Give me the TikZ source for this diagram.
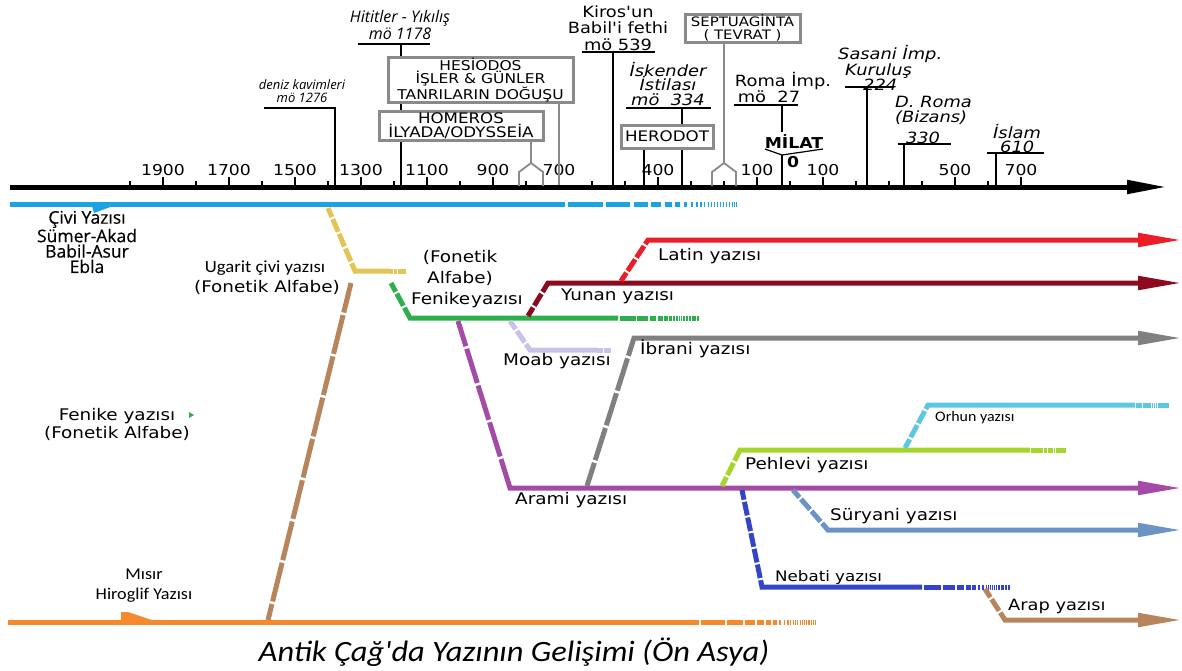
\documentclass[tikz,border=0pt]{standalone}
\usepackage{fontspec}
\setmainfont{DejaVu Sans}[FakeStretch=1.15]
\newfontfamily\djvu{DejaVu Sans}[FakeStretch=1.15]
\newfontfamily\calfont{Carlito}[FakeStretch=1.1]
\newfontfamily\osfont{Open Sans}
\newfontfamily\osmed{Open Sans}[FakeBold=0.4]
\usetikzlibrary{arrows.meta,calc}
\definecolor{cblue}{HTML}{1BA3E3}
\definecolor{cyellow}{HTML}{E3C555}
\definecolor{cbrown}{HTML}{B8845C}
\definecolor{cgreen}{HTML}{2DB04B}
\definecolor{cpurple}{HTML}{A34BA7}
\definecolor{clav}{HTML}{C8C1E8}
\definecolor{cdred}{HTML}{8C0A1E}
\definecolor{cred}{HTML}{EB1E28}
\definecolor{cgrey}{HTML}{808080}
\definecolor{clime}{HTML}{A6D62C}
\definecolor{ccyan}{HTML}{5CC7E2}
\definecolor{csteel}{HTML}{6B93C6}
\definecolor{cnavy}{HTML}{3344C8}
\definecolor{corange}{HTML}{F6892B}
\definecolor{boxgrey}{HTML}{8A8A8A}
\newcommand\fadetail[3]{%
  \foreach \ta/\tb in {0.02/0.22,0.24/0.38,0.40/0.48,0.50/0.56,0.58/0.62,0.64/0.67,0.69/0.71,0.73/0.745,0.76/0.772,0.785/0.795,0.808/0.816,0.829/0.836,0.849/0.855,0.868/0.873,0.886/0.890,0.903/0.907,0.920/0.923,0.936/0.939,0.952/0.955,0.968/0.971,0.984/0.987,0.997/1.0}
    {\draw[#1,line width=5pt] ($(#2)!\ta!(#3)$) -- ($(#2)!\tb!(#3)$);}}
\begin{document}
\begin{tikzpicture}[x=1pt,y=-1pt,line join=miter,
  br/.style={line width=5pt},
  tipd/.style={-{Triangle[length=44pt,width=13pt]}},
  gapl/.style={draw=white,line width=8pt,dash pattern=on 2.5pt off 40pt,dash phase=12pt},
  gaps/.style={draw=white,line width=8pt,dash pattern=on 2pt off 14pt,dash phase=6pt},
  lbl/.style={inner sep=0pt,align=center,font=\fontsize{16}{19}\selectfont},
  clbl/.style={inner sep=0pt,align=center,font=\calfont\fontsize{16}{19}\selectfont},
  yr/.style={inner sep=0pt,font=\fontsize{15}{17}\selectfont},
  evi/.style={inner sep=0pt,align=center,font=\itshape\fontsize{15.5}{15}\selectfont},
  evu/.style={inner sep=0pt,align=center,font=\fontsize{15.5}{16.5}\selectfont},
  evl/.style={line width=1.8pt,black},
  gl/.style={line width=1.8pt,boxgrey},
  tbox/.style={draw=boxgrey,line width=3pt,fill=white,align=center,inner sep=0pt}]
\useasboundingbox (0,0) rectangle (1182,670);

% ---------- time axis ----------
\coordinate (ax0) at (10,187);
\coordinate (ax1) at (1167,187);
\draw[line width=5pt,-{Triangle[length=40pt,width=13pt]}] (ax0) -- (ax1);
\foreach \k in {0,...,27}{\draw[line width=1.5pt] ({130+33*\k},181) -- ({130+33*\k},187);}
\foreach \k in {1,3,5,7,9,11,13,16,19,21,25,27}{\draw[line width=1.5pt] ({130+33*\k},177) -- ({130+33*\k},187);}
\foreach \k/\t in {1/1900,3/1700,5/1500,7/1300,9/1100,11/900,13/700,16/400,19/100,21/100,25/500,27/700}
  {\node[yr] (y\k) at ({130+33*\k},170) {\t};}
\node[yr,font=\bfseries\fontsize{15}{17}\selectfont] (zero) at (793,162) {0};

% ---------- events above the axis ----------
\node[inner sep=0pt,align=center,font=\osfont\itshape\fontsize{13}{13}\selectfont] (deniz) at (302,91) {deniz kavimleri\\mö 1276};
\coordinate (denL) at (264,108); \coordinate (denR) at (335,108); \coordinate (denA) at (335,185);
\draw[evl] (denL) -- (denR) -- (denA);

\node[inner sep=0pt,align=center,font=\osfont\itshape\fontsize{16}{16.5}\selectfont] (hitit) at (400,25) {Hititler - Yıkılış\\mö 1178};
\coordinate (hitL) at (358,44); \coordinate (hitR) at (430,44); \coordinate (hitT) at (401,44); \coordinate (hitA) at (401,185);
\draw[evl] (hitL) -- (hitR); \draw[evl] (hitT) -- (hitA);

\node[evu,font=\djvu\fontsize{15.5}{16.5}\selectfont] (kiros) at (618,28) {Kiros'un\\Babil'i fethi\\mö 539};
\coordinate (kirL) at (582,52); \coordinate (kirR) at (655,52); \coordinate (kirT) at (613,52); \coordinate (kirA) at (613,185);
\draw[evl] (kirL) -- (kirR); \draw[evl] (kirT) -- (kirA);

\node[evi,font=\itshape\fontsize{15.5}{14.5}\selectfont] (isk) at (668,84) {İskender\\İstilası\\mö~ 334};
\coordinate (iskL) at (626,108); \coordinate (iskR) at (711,108); \coordinate (iskT) at (682,108); \coordinate (iskA) at (682,185);
\draw[evl] (iskL) -- (iskR); \draw[evl] (iskT) -- (iskA);

\node[evu] (roma1) at (783,81) {Roma İmp.};
\node[evu] (roma2) at (769,97) {mö~ 27};
\coordinate (romL) at (734,105); \coordinate (romR) at (798,105); \coordinate (romT) at (782,105); \coordinate (romB) at (782,132);
\draw[evl] (romL) -- (romR); \draw[evl] (romT) -- (romB);
\node[inner sep=0pt,font=\bfseries\fontsize{15}{17}\selectfont] (milat) at (794,142) {MİLAT};
\coordinate (milL) at (765,149); \coordinate (milV) at (782,155); \coordinate (milR) at (823,149); \coordinate (milA) at (782,185);
\draw[line width=1.2pt] (milL) -- (milV) -- (milR);
\draw[evl] (milV) -- (milA);

\node[evi,align=left,anchor=north west,font=\itshape\fontsize{15.5}{13.5}\selectfont] (sas) at (838,45) {Sasani İmp.\\\hspace*{7pt}Kuruluş\\\hspace*{25pt}224};
\coordinate (sasL) at (845,87); \coordinate (sasR) at (894,87); \coordinate (sasT) at (867,87); \coordinate (sasA) at (867,185);
\draw[evl] (sasL) -- (sasR); \draw[evl] (sasT) -- (sasA);

\node[evi,align=left,anchor=north west] (dr) at (895,96) {D. Roma\\(Bizans)};
\node[evi] (dr3) at (923,138) {330};
\coordinate (drL) at (898,144); \coordinate (drR) at (951,144); \coordinate (drT) at (904,144); \coordinate (drA) at (904,185);
\draw[evl] (drL) -- (drR); \draw[evl] (drT) -- (drA);

\node[evi,align=left,anchor=north west,font=\itshape\fontsize{15.5}{14}\selectfont] (isl) at (993,124) {İslam\\\hspace*{7pt}610};
\coordinate (islL) at (987,153); \coordinate (islR) at (1044,153); \coordinate (islT) at (996,153); \coordinate (islA) at (996,185);
\draw[evl] (islL) -- (islR); \draw[evl] (islT) -- (islA);

% ---------- boxes ----------
\node[tbox,minimum width=185pt,minimum height=42pt,font=\fontsize{13.5}{13}\selectfont] (hes) at (480.5,80) {HESİODOS\\İŞLER \& GÜNLER\\TANRILARIN DOĞUŞU};
\node[tbox,minimum width=164pt,minimum height=29pt,font=\fontsize{14.5}{14}\selectfont] (hom) at (461,125.5) {HOMEROS\\İLYADA/ODYSSEİA};
\node[tbox,minimum width=92pt,minimum height=23pt,font=\fontsize{14.5}{14}\selectfont] (her) at (667,136.5) {HERODOT};
\node[tbox,minimum width=115pt,minimum height=28pt,font=\fontsize{13}{12.5}\selectfont] (sep) at (742.5,28) {SEPTUAGİNTA\\( TEVRAT )};

\coordinate (hesA) at (559,185);
\draw[gl] (hes.south -| hesA) -- (hesA);
\coordinate (homP) at (531,163);
\draw[gl] (hom.south -| homP) -- (homP);
\draw[gl] (519,186) -- (519,172) -- (homP) -- (543,172) -- (543,186);
\coordinate (sepP) at (724,163);
\draw[gl] (sep.south -| sepP) -- (sepP);
\draw[gl] (712,186) -- (712,172) -- (sepP) -- (736,172) -- (736,186);
\coordinate (herA) at (644,185);
\draw[evl] (her.south -| herA) -- (herA);

% ---------- script lines ----------
% Civi (blue)
\coordinate (b0) at (10,204); \coordinate (b1) at (565,204); \coordinate (b2) at (737,204);
\draw[br,cblue] (b0) -- (b1);
\fadetail{cblue}{b1}{b2}
\fill[cblue] (92,206) -- (113,206) -- (94,213) -- cycle;

% Misir (orange)
\coordinate (o0) at (8,622); \coordinate (o1) at (699,622); \coordinate (o2) at (815,622);
\draw[br,corange] (o0) -- (o1);
\fadetail{corange}{o1}{o2}
\fill[corange] (121,620) -- (121,612) -- (128,612) -- (152,620) -- cycle;

% Ugarit (yellow)
\coordinate (y0) at (328,208); \coordinate (y1) at (355,271); \coordinate (y2) at (390,271); \coordinate (y3) at (405,271);
\draw[br,cyellow] (y0) -- (y1) -- (y2);
\fadetail{cyellow}{y2}{y3}
\draw[gaps] (y0) -- (y1);
% Ugarit lower (brown)
\coordinate (u0) at (351,283); \coordinate (u1) at (268,620);
\draw[br,cbrown] (u0) -- (u1);
\draw[gapl] (u0) -- (u1);

% Fenike (green)
\coordinate (g0) at (391,283); \coordinate (g1) at (410,318); \coordinate (g2) at (618,318); \coordinate (g3) at (698,318);
\draw[br,cgreen] (g0) -- (g1) -- (g2);
\fadetail{cgreen}{g2}{g3}
\draw[gaps] (g0) -- (g1);

% Moab (lavender)
\coordinate (m0) at (510,321); \coordinate (m1) at (530,350); \coordinate (m2) at (597,350); \coordinate (m3) at (610,350);
\draw[br,clav] (m0) -- (m1) -- (m2);
\fadetail{clav}{m2}{m3}
\draw[gaps] (m0) -- (m1);

% Arami (purple)
\coordinate (p0) at (458,321); \coordinate (p1) at (510,488); \coordinate (p2) at (1182,488);
\draw[br,cpurple,tipd] (p0) -- (p1) -- (p2);
\draw[gapl,dash pattern=on 2.5pt off 36pt] (p0) -- (p1);

% Yunan (dark red)
\coordinate (d0) at (528,316); \coordinate (d1) at (548,283); \coordinate (d2) at (1182,283);
\draw[br,cdred,tipd] (d0) -- (d1) -- (d2);
\draw[gaps] (d0) -- (d1);

% Latin (red)
\coordinate (r0) at (621,281); \coordinate (r1) at (648,240); \coordinate (r2) at (1182,240);
\draw[br,cred,tipd] (r0) -- (r1) -- (r2);
\draw[gaps] (r0) -- (r1);

% Ibrani (grey)
\coordinate (h0) at (587,486); \coordinate (h1) at (634,338); \coordinate (h2) at (1182,338);
\draw[br,cgrey,tipd] (h0) -- (h1) -- (h2);
\draw[gapl,dash pattern=on 2.5pt off 34pt] (h0) -- (h1);

% Pehlevi (lime)
\coordinate (l0) at (722,486); \coordinate (l1) at (740,450); \coordinate (l2) at (1030,450); \coordinate (l3) at (1065,450);
\draw[br,clime] (l0) -- (l1) -- (l2);
\fadetail{clime}{l2}{l3}
\draw[gaps] (l0) -- (l1);

% Orhun (cyan)
\coordinate (c0) at (905,448); \coordinate (c1) at (928,405); \coordinate (c2) at (1135,405); \coordinate (c3) at (1168,405);
\draw[br,ccyan] (c0) -- (c1) -- (c2);
\fadetail{ccyan}{c2}{c3}
\draw[gaps] (c0) -- (c1);

% Suryani (steel blue)
\coordinate (s0) at (793,490); \coordinate (s1) at (828,530); \coordinate (s2) at (1182,530);
\draw[br,csteel,tipd] (s0) -- (s1) -- (s2);
\draw[gaps] (s0) -- (s1);

% Nebati (navy)
\coordinate (n0) at (742,490); \coordinate (n1) at (762,587); \coordinate (n2) at (922,587); \coordinate (n3) at (1009,587);
\draw[br,cnavy] (n0) -- (n1) -- (n2);
\fadetail{cnavy}{n2}{n3}
\draw[gaps] (n0) -- (n1);

% Arap (brown)
\coordinate (a0) at (985,589); \coordinate (a1) at (1005,620); \coordinate (a2) at (1182,620);
\draw[br,cbrown,tipd] (a0) -- (a1) -- (a2);
\draw[gaps] (a0) -- (a1);

% ---------- labels ----------
\node[inner sep=0pt,align=center,font=\osmed\fontsize{17.5}{15.4}\selectfont] (civi) at (87,242) {Çivi Yazısı\\Sümer-Akad\\Babil-Asur\\Ebla};
\node[clbl,font=\calfont\fontsize{17}{19}\selectfont] (ugarit1) at (265,268) {Ugarit çivi yazısı};
\node[lbl] (ugarit2) at (267,287) {(Fonetik Alfabe)};
\node[lbl,font=\fontsize{16}{21}\selectfont] (fonetik) at (460,268) {(Fonetik\\Alfabe)};
\node[lbl,anchor=west] (fenike) at (411,300) {Fenike\hspace{1pt}yazısı};
\node[lbl,font=\fontsize{16}{18}\selectfont] (fenleft) at (117,424) {Fenike yazısı\hspace{10pt}\\(Fonetik Alfabe)};
\fill[cgreen] (189,412) -- (194,415) -- (189,418) -- cycle;
\node[clbl,font=\calfont\fontsize{16.5}{20}\selectfont] (misir) at (144,586) {Mısır\\Hiroglif Yazısı};
\node[lbl,anchor=west] (latin) at (658,256) {Latin yazısı};
\node[lbl,anchor=west] (yunan) at (561,296) {Yunan yazısı};
\node[lbl,anchor=west] (moab) at (503,361) {Moab yazısı};
\node[lbl,anchor=west] (ibrani) at (640,349) {İbrani yazısı};
\node[clbl,anchor=west,font=\calfont\fontsize{14.5}{16}\selectfont] (orhun) at (935,418) {Orhun yazısı};
\node[lbl,anchor=west] (pehlevi) at (745,465) {Pehlevi yazısı};
\node[lbl,anchor=west] (arami) at (515,500) {Arami yazısı};
\node[lbl,anchor=west,font=\fontsize{16}{17}\selectfont] (suryani) at (830,516) {Süryani yazısı};
\node[lbl,anchor=west,font=\fontsize{14.5}{17}\selectfont] (nebati) at (775,577) {Nebati yazısı};
\node[lbl,anchor=west,font=\fontsize{15.5}{17}\selectfont] (arap) at (1008,606) {Arap yazısı};
\node[inner sep=0pt,font=\calfont\itshape\fontsize{29.5}{32}\selectfont] (title) at (514,652) {Antik Çağ'da Yazının Gelişimi (Ön Asya)};
\end{tikzpicture}
\end{document}
